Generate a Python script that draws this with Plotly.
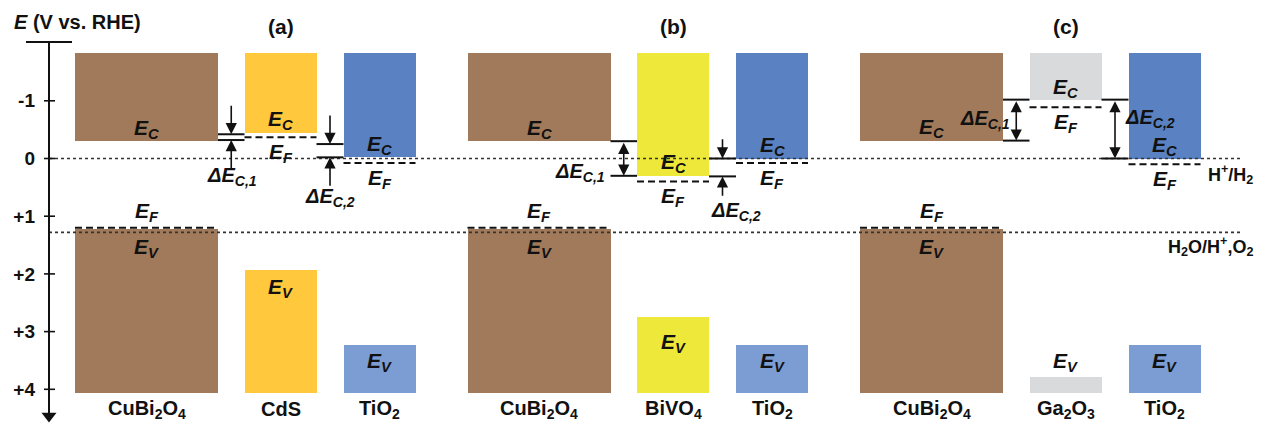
import plotly.graph_objects as go

# ---------------- data ----------------
panel_labels = ["(a)", "(b)", "(c)"]
materials = [
    ["CuBi<sub>2</sub>O<sub>4</sub>", "CdS", "TiO<sub>2</sub>"],
    ["CuBi<sub>2</sub>O<sub>4</sub>", "BiVO<sub>4</sub>", "TiO<sub>2</sub>"],
    ["CuBi<sub>2</sub>O<sub>4</sub>", "Ga<sub>2</sub>O<sub>3</sub>", "TiO<sub>2</sub>"],
]
cb_edge = [[-0.30, -0.45, -0.02], [-0.30, 0.30, 0.00], [-0.31, -1.01, 0.00]]   # E_C (V vs RHE)
vb_edge = [[1.23, 1.94, 3.23], [1.23, 2.75, 3.24], [1.23, 3.78, 3.24]]         # E_V
fermi = [[1.20, -0.37, 0.08], [1.20, 0.40, 0.08], [1.20, -0.89, 0.10]]         # E_F
dEc1_levels = [[-0.42, -0.32], [-0.30, 0.30], [-1.02, -0.31]]
dEc2_levels = [[-0.25, -0.02], [0.00, 0.31], [-1.02, 0.00]]
h2_level = 0.0
o2_level = 1.28
y_tickvals = [-1, 0, 1, 2, 3, 4]
y_ticktext = ["-1", "0", "+1", "+2", "+3", "+4"]

# ---------------- layout / style constants ----------------
PAGE_W, PAGE_H = 1262, 424
PAD = 8                      # browser body margin
W, H = PAGE_W - PAD, PAGE_H - PAD
px_per_unit = 57.7
zero_px = 158.5
def ypx(p):
    return (p - zero_px) / px_per_unit
y_top = ypx(PAD)
y_bot = ypx(PAGE_H)

band_top, band_bottom = -1.83, 4.06
panel_x = [146.5, 539.0, 931.5]
box_off = [0, 134, 233]
box_w = [143, 72, 72]
cb_colors = [["#A07A5A", "#FFC83D", "#5A82C3"],
             ["#A07A5A", "#EEE83A", "#5A82C3"],
             ["#A07A5A", "#D9DADC", "#5A82C3"]]
vb_colors = [["#A07A5A", "#FFC83D", "#7C9DD4"],
             ["#A07A5A", "#EEE83A", "#7C9DD4"],
             ["#A07A5A", "#D9DADC", "#7C9DD4"]]
ev_label_y = [[1.55, 2.24, 3.52], [1.55, 3.20, 3.52], [1.55, 3.52, 3.52]]
arrow_style = [["out", "out"], ["double", "out"], ["double", "double"]]
arrow_len = [0.52, 0.36, 0.35]
dE1_label = [(232, 0.32), (580, 0.25), (985, -0.67)]
dE2_label = [(330, 0.67), (736, 0.91), (1150, -0.70)]
FONT = "Liberation Sans, Arial, sans-serif"
INK = "#111111"

fig = go.Figure()

xs, ws, cb_base, cb_h, cbc, vb_base, vb_h, vbc = [], [], [], [], [], [], [], []
for p in range(3):
    for m in range(3):
        xc = panel_x[p] + box_off[m]
        xs.append(xc); ws.append(box_w[m])
        cb_base.append(band_top); cb_h.append(cb_edge[p][m] - band_top); cbc.append(cb_colors[p][m])
        vb_base.append(vb_edge[p][m]); vb_h.append(band_bottom - vb_edge[p][m]); vbc.append(vb_colors[p][m])

fig.add_trace(go.Bar(x=xs, y=cb_h, base=cb_base, width=ws, marker=dict(color=cbc, line=dict(width=0)),
                     showlegend=False, hoverinfo="skip"))
fig.add_trace(go.Bar(x=xs, y=vb_h, base=vb_base, width=ws, marker=dict(color=vbc, line=dict(width=0)),
                     showlegend=False, hoverinfo="skip"))

shapes = []
ann = []

def txt(x, y, s, size=20, xanchor="center"):
    ann.append(dict(x=x, y=y, xref="x", yref="y", text=s, showarrow=False, xanchor=xanchor,
                    yanchor="middle", font=dict(family=FONT, size=size, color=INK)))

EC = "<b><i>E</i><sub><i>C</i></sub></b>"
EF = "<b><i>E</i><sub><i>F</i></sub></b>"
EV = "<b><i>E</i><sub><i>V</i></sub></b>"

# reference levels (dotted)
shapes.append(dict(type="line", x0=49, x1=1243, y0=h2_level, y1=h2_level, xref="x", yref="y",
                   line=dict(color="#333333", width=1.6, dash="dot")))
shapes.append(dict(type="line", x0=49, x1=1240, y0=o2_level, y1=o2_level, xref="x", yref="y",
                   line=dict(color="#333333", width=1.6, dash="dot")))

for p in range(3):
    txt(panel_x[p] + box_off[1], ypx(26), "<b>" + panel_labels[p] + "</b>", size=21)
    for m in range(3):
        xc = panel_x[p] + box_off[m]
        w = box_w[m]
        shapes.append(dict(type="line", x0=xc - w / 2, x1=xc + w / 2, y0=fermi[p][m], y1=fermi[p][m],
                           xref="x", yref="y", line=dict(color=INK, width=2, dash="7px,4px")))
        txt(xc, cb_edge[p][m] - 0.22, EC, size=21)
        if m == 0:
            txt(xc, fermi[p][m] - 0.28, EF, size=21)
        else:
            txt(xc, fermi[p][m] + 0.27, EF, size=21)
        txt(xc, ev_label_y[p][m], EV, size=21)
        txt(xc, ypx(409), "<b>" + materials[p][m] + "</b>", size=20)

    for k, levels in enumerate([dEc1_levels[p], dEc2_levels[p]]):
        xl = panel_x[p] + box_off[k] + box_w[k] / 2
        xr = panel_x[p] + box_off[k + 1] - box_w[k + 1] / 2
        xm = (xl + xr) / 2
        for lv in levels:
            shapes.append(dict(type="line", x0=xl, x1=xr, y0=lv, y1=lv, xref="x", yref="y",
                               line=dict(color=INK, width=2)))
        up, lo = min(levels), max(levels)
        arr = dict(xref="x", yref="y", axref="x", ayref="y", text="", showarrow=True,
                   arrowhead=2, arrowsize=1.4, arrowwidth=1.6, arrowcolor=INK, standoff=0)
        if arrow_style[p][k] == "out":
            ann.append(dict(arr, x=xm, y=up, ax=xm, ay=up - arrow_len[p]))
            ann.append(dict(arr, x=xm, y=lo, ax=xm, ay=lo + arrow_len[p]))
        else:
            ann.append(dict(arr, x=xm, y=lo, ax=xm, ay=up, arrowside="end+start", startarrowhead=2,
                            startarrowsize=1.4))
    lab = ["<b><i>ΔE</i><sub><i>C,1</i></sub></b>", "<b><i>ΔE</i><sub><i>C,2</i></sub></b>"]
    txt(dE1_label[p][0], dE1_label[p][1], lab[0])
    txt(dE2_label[p][0], dE2_label[p][1], lab[1])

txt(1206, ypx(174), "<b>H<sup>+</sup>/H<sub>2</sub></b>", size=18, xanchor="left")
txt(1166, ypx(246), "<b>H<sub>2</sub>O/H<sup>+</sup>,O<sub>2</sub></b>", size=18, xanchor="left")

# energy axis
shapes.append(dict(type="line", x0=49, x1=49, y0=ypx(42), y1=ypx(414), xref="x", yref="y",
                   line=dict(color=INK, width=2)))
shapes.append(dict(type="line", x0=26, x1=72, y0=ypx(42), y1=ypx(42), xref="x", yref="y",
                   line=dict(color=INK, width=2)))
for t in y_tickvals:
    shapes.append(dict(type="line", x0=44, x1=55, y0=t, y1=t, xref="x", yref="y",
                       line=dict(color=INK, width=1.6)))
fig.add_trace(go.Scatter(x=[49], y=[ypx(416)], mode="markers",
                         marker=dict(symbol="triangle-down", size=13, color=INK),
                         showlegend=False, hoverinfo="skip", cliponaxis=False))
ann.append(dict(x=12, y=ypx(22), xref="x", yref="y", xanchor="left", yanchor="middle", showarrow=False,
                text="<b><i>E</i> (V vs. RHE)</b>", font=dict(family=FONT, size=20, color=INK)))

fig.update_layout(
    width=W, height=H, margin=dict(l=0, r=0, t=0, b=0),
    paper_bgcolor="white", plot_bgcolor="white", barmode="overlay", bargap=0,
    shapes=shapes, annotations=ann, showlegend=False,
    xaxis=dict(range=[PAD, PAGE_W], visible=False, fixedrange=True),
    yaxis=dict(range=[y_bot, y_top], anchor="free", position=(49 - PAD) / W, showgrid=False,
               zeroline=False, showline=False, ticks="", tickvals=y_tickvals,
               ticktext=["<b>" + t + "</b>" for t in y_ticktext],
               tickfont=dict(family=FONT, size=19, color=INK), ticklabelstandoff=14,
               fixedrange=True),
)

fig.write_html("out.html")
